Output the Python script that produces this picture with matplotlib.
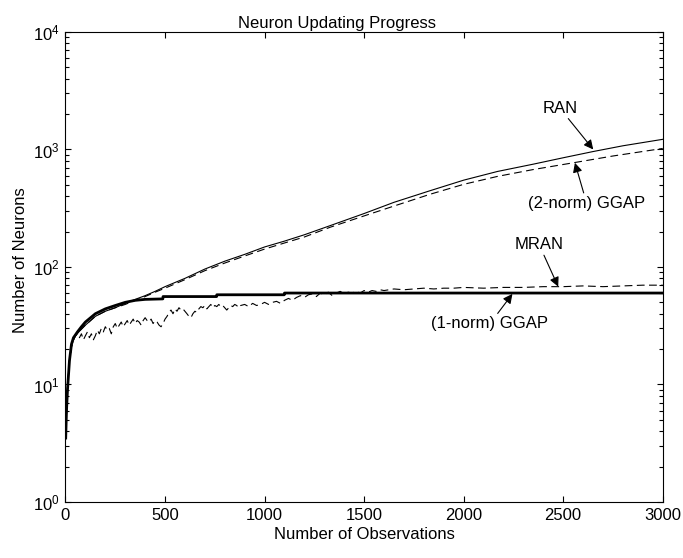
import matplotlib
matplotlib.use("Agg")
import matplotlib.pyplot as plt
from matplotlib.ticker import LogLocator, NullFormatter

plt.rcParams['font.family'] = ['Liberation Sans', 'DejaVu Sans']
plt.rcParams['mathtext.default'] = 'regular'

# RAN (thin solid)
ran_x = [1, 5, 10, 20, 30, 40, 50, 75, 100, 150, 200, 250, 300, 350, 400, 450, 500,
         600, 700, 800, 900, 1000, 1100, 1200, 1330, 1500, 1650, 1830, 2000, 2170,
         2350, 2500, 2650, 2800, 3000]
ran_y = [3.5, 6, 9.5, 16, 21, 24, 26, 29, 32, 38, 42, 45, 49, 53, 57, 62, 68,
         80, 96, 112, 128, 148, 166, 188, 225, 285, 355, 445, 548, 650,
         750, 850, 960, 1075, 1220]

# (2-norm) GGAP (thin dashed)
ggap2_x = [1, 5, 10, 20, 30, 40, 50, 75, 100, 150, 200, 250, 300, 350, 400, 450, 500,
           600, 700, 800, 900, 1000, 1100, 1200, 1330, 1500, 1650, 1830, 2000, 2170,
           2350, 2550, 2750, 3000]
ggap2_y = [3.5, 6, 9.5, 16, 21, 24, 26, 29, 32, 38, 42, 45, 48, 52, 56, 61, 66,
           78, 93, 108, 124, 142, 160, 180, 218, 272, 330, 415, 505, 590,
           675, 770, 880, 1020]

# MRAN (dashed, jagged)
mran_x = [1, 10, 20, 30, 40, 50, 60, 70, 80, 90, 100, 110, 120, 130, 140, 150, 160, 170,
          180, 190, 200, 210, 220, 230, 240, 250, 260, 270, 280, 290, 300, 310, 320,
          330, 340, 350, 360, 370, 380, 390, 400, 410, 420, 430, 440, 450, 460, 470,
          480, 490, 500, 510, 520, 530, 540, 550, 560, 570, 580, 590, 600, 610, 620,
          630, 640, 650, 660, 670, 680, 690, 700, 710, 720, 730, 740, 750, 760, 770,
          780, 790, 800, 810, 820, 830, 840, 850, 860, 870, 880, 900, 920, 940, 960,
          980, 1000, 1020, 1040, 1060, 1080, 1100, 1120, 1140, 1160, 1180, 1200, 1220,
          1240, 1260, 1280, 1300, 1320, 1340, 1360, 1380, 1400, 1420, 1440, 1460, 1480,
          1500, 1520, 1540, 1560, 1580, 1600, 1650, 1700, 1750, 1800, 1850, 1900, 1950,
          2000, 2100, 2200, 2300, 2400, 2500, 2600, 2700, 2800, 2900, 3000]
mran_y = [3.5, 9, 16, 21, 24, 26, 27, 25, 27, 24, 26, 28, 25, 27, 24, 26, 29, 27,
          30, 28, 31, 29, 30, 27, 31, 33, 30, 32, 34, 31, 33, 35, 32,
          34, 36, 33, 35, 34, 32, 35, 37, 35, 34, 36, 33, 35, 34, 32,
          31, 33, 36, 38, 41, 43, 40, 44, 42, 45, 43, 44, 42, 40, 38,
          37, 40, 42, 41, 44, 46, 45, 47, 44, 46, 48, 45, 47, 46, 48,
          46, 47, 45, 43, 45, 47, 46, 48, 47, 45, 47, 48, 46, 49, 47,
          48, 50, 48, 50, 51, 49, 52, 54, 52, 55, 57, 55, 58,
          59, 56, 60, 58, 61, 57, 60, 62, 59, 61, 60, 62, 60,
          63, 61, 63, 62, 64, 63, 65, 64, 65, 66, 65, 66, 66,
          67, 66, 67, 67, 68, 68, 69, 68, 69, 70, 70]

# (1-norm) GGAP (thick solid)
ggap1_x = [1, 5, 10, 15, 20, 30, 40, 60, 80, 100, 150, 200, 250, 300, 350, 400, 489,
           490, 759, 760, 1099, 1100, 3000]
ggap1_y = [3.5, 6, 9, 12, 16, 22, 25, 28, 31, 34, 40, 44, 47, 50, 52, 53, 53.5,
           56, 56, 58, 58, 60, 60]

fig = plt.figure(figsize=(6.83, 5.58), dpi=100)
ax = fig.add_axes([0.0959, 0.1004, 0.8744, 0.8423])

ax.semilogy(ran_x, ran_y, color='k', lw=0.8)
ax.semilogy(ggap2_x, ggap2_y, color='k', lw=0.8, dashes=(7, 4))
ax.semilogy(mran_x, mran_y, color='k', lw=0.8, dashes=(7, 4))
ax.semilogy(ggap1_x, ggap1_y, color='k', lw=2.0)

ax.set_xlim(0, 3000)
ax.set_ylim(1, 1e4)
ax.set_xticks([0, 500, 1000, 1500, 2000, 2500, 3000])
ax.yaxis.set_major_locator(LogLocator(base=10, numticks=10))
ax.yaxis.set_minor_locator(LogLocator(base=10, subs=range(2, 10), numticks=50))
ax.yaxis.set_minor_formatter(NullFormatter())
ax.tick_params(which='both', direction='in', top=True, right=True, labelsize=12, pad=4)
ax.tick_params(which='major', length=4.5, width=0.8)
ax.tick_params(which='minor', length=3, width=0.8)
for s in ax.spines.values():
    s.set_linewidth(0.8)

# title sits a little left of centre in the original
ax.set_title('Neuron Updating Progress', fontsize=12, pad=3, x=0.455)
ax.set_xlabel('Number of Observations', fontsize=12, labelpad=3)
ax.set_ylabel('Number of Neurons', fontsize=12, labelpad=2)
ax.yaxis.set_label_coords(-0.063, 0.515)

arrow = dict(arrowstyle='-|>', color='k', lw=0.8, mutation_scale=14, shrinkA=0, shrinkB=0)
ax.annotate('RAN', xy=(2651, 1000), xytext=(2484, 2240), fontsize=12,
            ha='center', va='center', arrowprops=arrow)
ax.annotate('(2-norm) GGAP', xy=(2559, 770), xytext=(2618, 349), fontsize=12,
            ha='center', va='center', arrowprops=arrow)
ax.annotate('MRAN', xy=(2475, 68), xytext=(2380, 154), fontsize=12,
            ha='center', va='center', arrowprops=arrow)
ax.annotate('(1-norm) GGAP', xy=(2245, 59), xytext=(2132, 32.9), fontsize=12,
            ha='center', va='center', arrowprops=arrow)

fig.savefig('out.png', dpi=100)
